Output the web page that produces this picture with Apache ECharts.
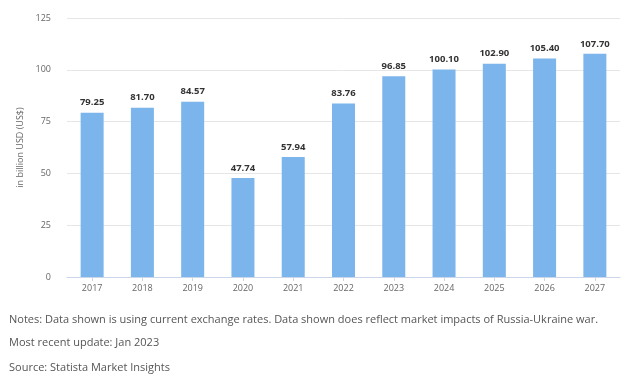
<!DOCTYPE html>
<html><head><meta charset="utf-8">
<script src="https://cdn.jsdelivr.net/npm/echarts@6/dist/echarts.min.js"></script>
<style>html,body{margin:0;padding:0;background:#fff}#c{width:640px;height:386px}</style>
</head><body><div id="c"></div>
<script>
const categories = ['2017','2018','2019','2020','2021','2022','2023','2024','2025','2026','2027'];
const values = [79.25, 81.70, 84.57, 47.74, 57.94, 83.76, 96.85, 100.10, 102.90, 105.40, 107.70];
const yTicks = [0, 25, 50, 75, 100, 125];
const yAxisName = 'in billion USD (US$)';
const notes = [
  'Notes: Data shown is using current exchange rates. Data shown does reflect market impacts of Russia-Ukraine war.',
  'Most recent update: Jan 2023',
  'Source: Statista Market Insights'
];
const chart = echarts.init(document.getElementById('c'), null, {renderer:'canvas'});
chart.setOption({
  animation:false,
  grid:{left:67, right:20, top:18, bottom:109},
  xAxis:{type:'category', data:categories,
    axisLine:{lineStyle:{color:'#ccd6eb'}},
    axisTick:{show:true, alignWithLabel:true, length:4, lineStyle:{color:'#ccd6eb'}},
    axisLabel:{color:'#666', fontSize:9, fontFamily:'Open Sans', margin:7}},
  yAxis:{type:'value', min:yTicks[0], max:yTicks[yTicks.length-1], interval:25,
    name:yAxisName, nameLocation:'middle', nameGap:35, nameRotate:90,
    nameTextStyle:{color:'#666', fontSize:9, fontFamily:'Open Sans'},
    axisLabel:{color:'#666', fontSize:9, fontFamily:'Open Sans', margin:16},
    splitLine:{lineStyle:{color:'#e6e6e6'}}},
  series:[{type:'bar', data:values, barWidth:23,
    itemStyle:{color:'#7cb5ec'},
    label:{show:true, position:'top', distance:5, color:'#333', fontSize:9.5, fontWeight:'bold', fontFamily:'Open Sans',
      formatter:p=>p.value.toFixed(2)}}],
  graphic: notes.map((t,i)=>({type:'text', left:9, top:[314,337,362][i],
    style:{text:t, fill:'#555', fontSize:11, fontFamily:'Open Sans'}}))
});
</script></body></html>
